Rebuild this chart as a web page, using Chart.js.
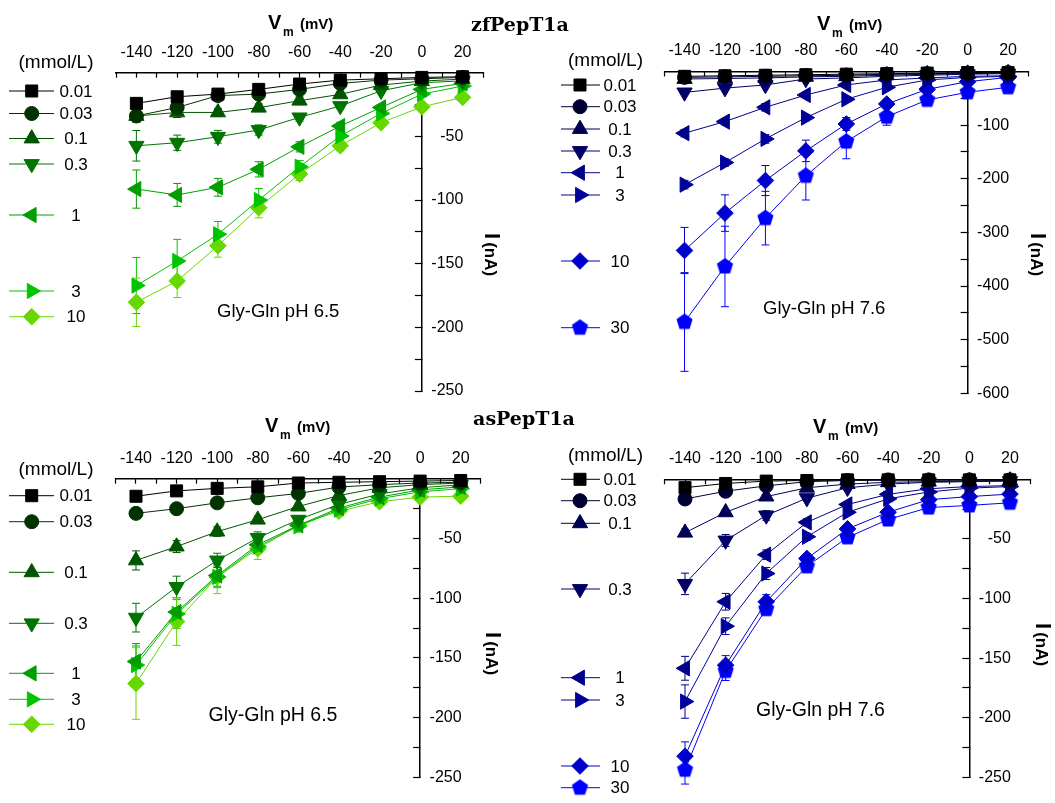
<!DOCTYPE html>
<html>
<head>
<meta charset="utf-8">
<script src="https://cdn.jsdelivr.net/npm/chart.js@4.4.1/dist/chart.umd.min.js"></script>
<style>
  body { margin: 0; background: #fff; width: 1055px; height: 803px; position: relative; overflow: hidden; }
  canvas { position: absolute; left: 0; top: 0; }
  .t { position: absolute; white-space: nowrap; line-height: 1; color: #000; font-family: 'Liberation Sans', Arial, sans-serif; }
</style>
</head>
<body>
<canvas id="zf65" width="1055" height="803"></canvas>
<canvas id="zf76" width="1055" height="803"></canvas>
<canvas id="as65" width="1055" height="803"></canvas>
<canvas id="as76" width="1055" height="803"></canvas>
<script>
// membrane potential (mV) and Gly-Gln concentrations (mmol/L)
const voltages = [-140, -120, -100, -80, -60, -40, -20, 0, 20];
const concGreen = ['0.01', '0.03', '0.1', '0.3', '1', '3', '10'];
const concBlue = ['0.01', '0.03', '0.1', '0.3', '1', '3', '10', '30'];

// zfPepT1a, pH 6.5 (nA), one row per concentration
const zf65Current = [
  [-24.1, -18.9, -16.8, -13.1, -8.9, -5.8, -4.8, -3.7, -3.2],
  [-34, -27.3, -18, -16.8, -13.1, -8.4, -5.8, -4.8, -3.7],
  [-34, -31.2, -31.2, -27.5, -22, -17, -9.7, -6.6, -5],
  [-57.4, -55, -50.3, -45, -35.1, -26.2, -14.2, -7.9, -6.4],
  [-91.4, -96, -90, -75.9, -58.2, -41.9, -27.3, -13.1, -8.4],
  [-167.2, -147.9, -126.9, -100, -73.9, -49.8, -32, -16.8, -10.5],
  [-180.3, -163.6, -135.9, -106, -79.6, -57.4, -39.3, -26.8, -19.4]
];
const zf65Error = [
  [2, 2, 2, 2, 1, 1, 1, 1, 1],
  [4, 3, 2, 2, 2, 1, 1, 1, 1],
  [5, 4, 3, 3, 3, 2, 2, 1, 1],
  [12, 6, 5, 4, 3, 2, 2, 1, 1],
  [15, 9, 7, 6, 4, 3, 2, 2, 1],
  [22, 17, 10, 9, 5, 4, 3, 2, 1],
  [19, 13, 9, 8, 5, 4, 3, 2, 2]
];

// zfPepT1a, pH 7.6
const zf76Current = [
  [-9, -8, -7, -6, -5, -4, -3, -2, -2],
  [-11, -10, -9, -8, -7, -5, -4, -3, -2],
  [-14, -13, -12, -10, -9, -7, -5, -4, -3],
  [-39, -31, -25, -14, -12, -9, -7, -5, -4],
  [-115, -93.4, -66.7, -43.8, -25, -15.8, -12, -9, -8],
  [-211, -169.8, -125.7, -86, -51.8, -29.4, -15.8, -11, -9],
  [-333.7, -264, -203.3, -148, -97.8, -60.5, -33.2, -19, -11],
  [-467, -363.5, -273.4, -194.6, -130.7, -84.2, -53, -38.8, -29.4]
];
const zf76Error = [
  [2, 2, 2, 2, 1, 1, 1, 1, 1],
  [2, 2, 2, 2, 1, 1, 1, 1, 1],
  [3, 2, 2, 2, 2, 1, 1, 1, 1],
  [4, 3, 3, 2, 2, 1, 1, 1, 1],
  [7, 6, 7, 5, 4, 3, 2, 2, 1],
  [8, 7, 8, 6, 5, 4, 3, 2, 2],
  [43, 34, 28, 20, 12, 8, 5, 3, 2],
  [92, 75, 50, 45, 32, 16, 9, 5, 3]
];

// asPepT1a, pH 6.5
const as65Current = [
  [-14.7, -10.2, -8.1, -6.8, -3.6, -3, -2.5, -2, -1.5],
  [-29, -25.1, -20.2, -16, -12.3, -7, -5, -3.6, -3],
  [-68.4, -56.8, -44.3, -34.3, -23.3, -14.1, -7.6, -5, -3.6],
  [-116.3, -90.6, -68.4, -49.5, -34.3, -21.5, -12.8, -7.6, -5],
  [-153, -111.6, -81, -55.3, -39, -24.6, -15.4, -9.4, -6.8],
  [-156, -113.2, -82.2, -56.8, -39.8, -25.9, -16.7, -11, -8.3],
  [-171.4, -119.5, -82.2, -58.6, -38.5, -27.2, -19.3, -15.4, -14.6]
];
const as65Error = [
  [2, 1, 1, 1, 1, 1, 1, 1, 1],
  [2, 2, 2, 1, 1, 1, 1, 1, 1],
  [8, 5, 4, 3, 2, 2, 1, 1, 1],
  [12, 9, 6, 5, 3, 2, 2, 1, 1],
  [15, 12, 9, 6, 4, 3, 2, 1, 1],
  [16, 12, 9, 6, 4, 3, 2, 1, 1],
  [30, 20, 14, 9, 6, 4, 3, 2, 2]
];

// asPepT1a, pH 7.6
const as76Current = [
  [-7, -3.5, -1.5, -1, -0.5, -0.5, -0.5, -0.5, -0.5],
  [-16.5, -10, -5.5, -2, -1, -0.5, -0.5, -0.5, -0.5],
  [-44.8, -27.7, -14.5, -7.1, -4, -2.5, -2, -1.5, -1],
  [-87.7, -51.3, -30.3, -15.8, -7.1, -4, -2.5, -2, -1.5],
  [-158.5, -102.7, -63.2, -36.1, -21.1, -12.6, -7.9, -6.1, -5.3],
  [-186.4, -123.2, -79, -48.2, -27.7, -16.4, -10.6, -7.4, -6.1],
  [-232.2, -155.9, -102.7, -66.4, -41.6, -27.6, -17.1, -14.5, -12.4],
  [-243.6, -160.7, -108.8, -73, -48.7, -33.7, -23.7, -21.9, -19.7]
];
const as76Error = [
  [1, 1, 1, 1, 1, 1, 1, 1, 1],
  [1, 1, 1, 1, 1, 1, 1, 1, 1],
  [3, 2, 2, 1, 1, 1, 1, 1, 1],
  [9, 5, 4, 2, 2, 1, 1, 1, 1],
  [10, 7, 4, 3, 2, 1, 1, 1, 1],
  [14, 7, 5, 3, 2, 1, 1, 1, 1],
  [12, 8, 6, 4, 3, 2, 2, 1, 1],
  [12, 8, 5, 3, 2, 2, 1, 1, 1]
];

const greens = ['#000000', '#003300', '#005500', '#007400', '#009e00', '#00c400', '#66d800'];
const blues = ['#000000', '#000033', '#000055', '#000066', '#000088', '#00009a', '#0000cc', '#0000ff'];

function pentagon(color, r) {
  const c = document.createElement('canvas');
  c.width = c.height = 2 * r + 2;
  const g = c.getContext('2d');
  g.fillStyle = color;
  g.beginPath();
  for (let k = 0; k < 5; k++) {
    const a = -Math.PI / 2 + k * 2 * Math.PI / 5;
    g.lineTo(r + 1 + r * Math.cos(a), r + 1 + r * Math.sin(a));
  }
  g.closePath();
  g.fill();
  return c;
}

const shapes = [
  { pointStyle: 'rect', radius: 8.5, rotation: 0 },
  { pointStyle: 'circle', radius: 7, rotation: 0 },
  { pointStyle: 'triangle', radius: 8.8, rotation: 0 },
  { pointStyle: 'triangle', radius: 8.8, rotation: 180 },
  { pointStyle: 'triangle', radius: 8.8, rotation: 270 },
  { pointStyle: 'triangle', radius: 8.8, rotation: 90 },
  { pointStyle: 'rectRot', radius: 8.3, rotation: 0 },
  { pointStyle: 'pentagon', radius: 8.5, rotation: 0 }
];

Chart.defaults.font.family = "'Liberation Sans', Arial, sans-serif";
Chart.defaults.color = '#000';

// error bars through the chart's own scales
const errorBars = {
  id: 'errorBars',
  beforeDatasetsDraw(chart) {
    const { ctx, scales: { x, y } } = chart;
    chart.data.datasets.forEach(ds => {
      ctx.save();
      ctx.strokeStyle = ds.borderColor;
      ctx.lineWidth = 1;
      ds.data.forEach((p, i) => {
        const e = ds.errors[i];
        const px = x.getPixelForValue(p.x);
        const top = y.getPixelForValue(p.y + e);
        const bot = y.getPixelForValue(p.y - e);
        ctx.beginPath();
        ctx.moveTo(px, top); ctx.lineTo(px, bot);
        ctx.moveTo(px - 4, top); ctx.lineTo(px + 4, top);
        ctx.moveTo(px - 4, bot); ctx.lineTo(px + 4, bot);
        ctx.stroke();
      });
      ctx.restore();
    });
  }
};

// put the current axis on V = 0, and give both axes room for their labels
const yAxisAtZero = {
  id: 'yAxisAtZero',
  afterLayout(chart) {
    const xs = chart.scales.x, ys = chart.scales.y;
    const x0 = xs.getPixelForValue(0);
    xs.top = xs.bottom - 60;
    ys.left = x0;
    ys.right = x0 + 41.5;
  }
};

// legend rows placed next to the curves, like the original
const sideLegend = {
  id: 'sideLegend',
  afterDraw(chart, args, opts) {
    const ctx = chart.ctx;
    chart.data.datasets.forEach((ds, i) => {
      const y = opts.rows[i];
      ctx.save();
      ctx.strokeStyle = ds.borderColor;
      ctx.fillStyle = ds.borderColor;
      ctx.lineWidth = 1;
      ctx.beginPath();
      ctx.moveTo(opts.x0, y); ctx.lineTo(opts.x1, y);
      ctx.stroke();
      Chart.helpers.drawPoint(ctx, {
        pointStyle: ds.pointStyle, rotation: ds.rotation,
        radius: ds.pointRadius, borderWidth: 1
      }, opts.xm, y);
      ctx.fillStyle = '#000';
      ctx.font = "17px 'Liberation Sans', Arial, sans-serif";
      ctx.textAlign = 'center';
      ctx.textBaseline = 'middle';
      ctx.fillText(ds.label, opts.xl, y + 1);
      ctx.restore();
    });
  }
};

function makeChart(id, currents, errors, conc, colors, area, yMin, yStep, legend) {
  const datasets = currents.map((row, i) => {
    const s = shapes[i];
    const style = s.pointStyle === 'pentagon' ? pentagon(colors[i], s.radius) : s.pointStyle;
    return {
      label: conc[i],
      data: voltages.map((v, k) => ({ x: v, y: row[k] })),
      errors: errors[i],
      showLine: true,
      borderColor: colors[i],
      backgroundColor: colors[i],
      borderWidth: 1,
      pointStyle: style,
      rotation: s.rotation,
      pointRadius: s.radius,
      pointBorderWidth: 1,
      clip: false
    };
  });
  return new Chart(document.getElementById(id), {
    type: 'scatter',
    data: { datasets },
    options: {
      responsive: false,
      animation: false,
      events: [],
      layout: { padding: { left: area[0], top: area[1], right: 1055 - area[2], bottom: 803 - area[3] } },
      plugins: { legend: { display: false }, tooltip: { enabled: false }, sideLegend: legend },
      scales: {
        x: {
          type: 'linear', position: 'top', min: -150, max: 30,
          afterFit: s => { s.height = 0; },
          ticks: {
            stepSize: 10, autoSkip: false, maxRotation: 0, padding: 16,
            font: { size: 16 },
            callback: v => (v % 20 === 0 ? String(v) : '')
          },
          grid: { drawOnChartArea: false, tickLength: -5, tickColor: '#000', tickWidth: 1.2 },
          border: { display: true, color: '#000', width: 1.5 }
        },
        y: {
          type: 'linear', position: 'right', min: yMin, max: 0,
          afterFit: s => { s.width = 0; },
          ticks: {
            stepSize: yStep, autoSkip: false, padding: 16, crossAlign: 'far',
            font: { size: 16 },
            callback: v => (v !== 0 && v % (2 * yStep) === 0 ? String(v) : '')
          },
          grid: { drawOnChartArea: false, tickLength: -7, tickColor: '#000', tickWidth: 1.2 },
          border: { display: true, color: '#000', width: 1.5 }
        }
      }
    },
    plugins: [errorBars, yAxisAtZero, sideLegend]
  });
}

const legendLeft = { x0: 9, x1: 54, xm: 31.7, xl: 76 };
const legendRight = { x0: 561, x1: 600, xm: 580, xl: 620 };

makeChart('zf65', zf65Current, zf65Error, concGreen, greens, [116, 72.7, 483, 391], -250, 25,
  Object.assign({ rows: [91, 113.5, 138.5, 164, 215, 291, 316.7] }, legendLeft));
makeChart('zf76', zf76Current, zf76Error, concBlue, blues, [664.3, 71.5, 1028.3, 393.3], -600, 50,
  Object.assign({ rows: [85, 106.7, 129, 151, 172.7, 195, 261, 327.7] }, legendRight));
makeChart('as65', as65Current, as65Error, concGreen, greens, [115.7, 478.7, 481, 796.7], -250, 25,
  Object.assign({ rows: [495.7, 521.7, 572.3, 623.3, 673.3, 699.3, 724.3] }, legendLeft));
makeChart('as76', as76Current, as76Error, concBlue, blues, [664.7, 479.3, 1030.3, 795], -250, 25,
  Object.assign({ rows: [479.3, 500.7, 523.3, 589, 677.7, 700, 766, 787.7] }, legendRight));

// static text
function addText(str, x, baseline, size, opts) {
  opts = opts || {};
  const d = document.createElement('div');
  d.className = 't';
  d.textContent = str;
  d.style.fontSize = size + 'px';
  if (opts.bold) d.style.fontWeight = 'bold';
  if (opts.serif) d.style.fontFamily = "'DejaVu Serif', serif";
  d.style.left = x + 'px';
  d.style.top = (baseline - 0.846 * size) + 'px';
  if (opts.center) d.style.transform = 'translateX(-50%)';
  document.body.appendChild(d);
}
function axisX(x, baseline) {
  addText('V', x, baseline, 20, { bold: true });
  addText('m', x + 15, baseline + 7, 12, { bold: true });
  addText('(mV)', x + 32, baseline - 0.5, 15, { bold: true });
}
function axisY(xb, yStart) {
  const d = document.createElement('div');
  d.className = 't';
  d.style.left = xb + 'px';
  d.style.top = yStart + 'px';
  d.style.transform = 'rotate(90deg)';
  d.style.transformOrigin = '0 0';
  d.style.fontWeight = 'bold';
  d.innerHTML = '<div style="position:absolute;left:0;top:-18.6px;font-size:22px">I<span style="font-size:17px;margin-left:3px">(nA)</span></div>';
  document.body.appendChild(d);
}

addText('zfPepT1a', 520, 31.5, 19, { bold: true, serif: true, center: true });
addText('asPepT1a', 524, 425, 19, { bold: true, serif: true, center: true });

axisX(268, 29.3); axisX(817, 30); axisX(265, 432); axisX(813, 433);
axisY(483.5, 232.5); axisY(1030, 232.5); axisY(485, 632); axisY(1035, 623);

addText('(mmol/L)', 56, 68, 19, { center: true });
addText('(mmol/L)', 605.5, 66, 19, { center: true });
addText('(mmol/L)', 56, 475, 19, { center: true });
addText('(mmol/L)', 605.5, 461, 19, { center: true });

addText('Gly-Gln pH 6.5', 217, 318, 18.5);
addText('Gly-Gln pH 7.6', 763, 314.5, 18.5);
addText('Gly-Gln pH 6.5', 208.5, 721, 19.5);
addText('Gly-Gln pH 7.6', 756, 716, 19.5);
</script>
</body>
</html>
